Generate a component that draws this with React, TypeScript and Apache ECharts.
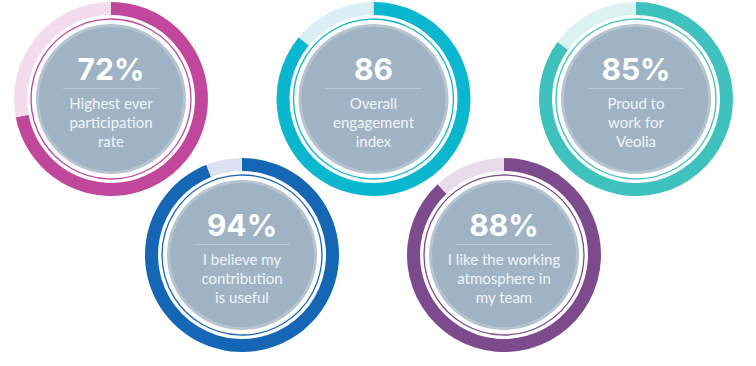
import React, { useEffect, useRef } from "react";
import * as echarts from "echarts";

const values = [72, 86, 85, 94, 88];
const units = ["%", "", "%", "%", "%"];
const labelLines = [
  ["Highest ever", "participation", "rate"],
  ["Overall", "engagement", "index"],
  ["Proud to", "work for", "Veolia"],
  ["I believe my", "contribution", "is useful"],
  ["I like the working", "atmosphere in", "my team"],
];
const colors = ["#c0479c", "#0bb7cf", "#3fc1bd", "#1567b5", "#7e4a8e"];
const lightColors = ["#f2dced", "#daeff4", "#dcf2f1", "#dde2f2", "#e9dcea"];
const centers: [number, number][] = [
  [111, 99],
  [373.5, 99],
  [636, 99],
  [242, 255],
  [504, 255],
];

const R_OUT = 97;
const R_IN = 84;
const R_LINE = 80;
const R_DISK = 75;

export default function App() {
  const ref = useRef<HTMLDivElement>(null);
  useEffect(() => {
    if (!ref.current) return;
    const chart = echarts.init(ref.current, null, { renderer: "svg" });
    const series: any[] = values.map((v, i) => ({
      type: "pie",
      center: centers[i],
      radius: [R_IN, R_OUT],
      startAngle: 90,
      clockwise: true,
      silent: true,
      label: { show: false },
      labelLine: { show: false },
      emphasis: { disabled: true },
      itemStyle: { borderWidth: 0 },
      data: [
        { value: v, itemStyle: { color: colors[i] } },
        { value: 100 - v, itemStyle: { color: lightColors[i] } },
      ],
    }));
    const graphics: any[] = [];
    values.forEach((v, i) => {
      const [cx, cy] = centers[i];
      graphics.push({
        type: "circle",
        z: 1,
        shape: { cx, cy, r: R_LINE },
        style: { fill: "none", stroke: colors[i], lineWidth: 1.3 },
        silent: true,
      });
      graphics.push({
        type: "circle",
        z: 2,
        shape: { cx, cy, r: R_DISK },
        style: { fill: "#b6c4d0" },
        silent: true,
      });
      graphics.push({
        type: "circle",
        z: 3,
        shape: { cx, cy, r: R_DISK - 3 },
        style: { fill: "#9fb3c4" },
        silent: true,
      });
      graphics.push({
        type: "line",
        z: 4,
        shape: { x1: cx - 48, y1: cy - 10.5, x2: cx + 48, y2: cy - 10.5 },
        style: { stroke: "#b9c7d3", lineWidth: 1 },
        silent: true,
      });
      graphics.push({
        type: "text",
        z: 5,
        style: {
          text: `${v}${units[i]}`,
          x: cx,
          y: cy - 30,
          textAlign: "center",
          textVerticalAlign: "middle",
          fill: "#ffffff",
          font: "700 30px Inter",
        },
        silent: true,
      });
      labelLines[i].forEach((line, j) => {
        graphics.push({
          type: "text",
          z: 5,
          style: {
            text: line,
            x: cx,
            y: cy + 4 + j * 19,
            textAlign: "center",
            textVerticalAlign: "middle",
            fill: "#f1f4f7",
            font: "15px Lato",
          },
          silent: true,
        });
      });
    });
    chart.setOption({
      animation: false,
      backgroundColor: "#ffffff",
      series,
      graphic: { elements: graphics },
    });
    return () => chart.dispose();
  }, []);
  return (
    <div
      ref={ref}
      style={{ position: "fixed", left: 0, top: 0, width: 756, height: 366 }}
    />
  );
}
